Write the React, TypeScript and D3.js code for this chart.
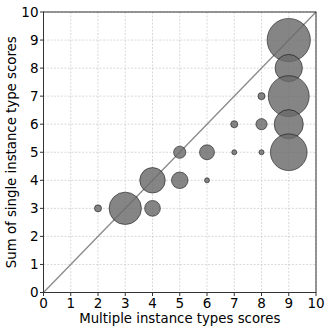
import * as d3 from "d3";

// bubble positions (multiple-type score, summed single-type score) and counts
const xs = [9, 9, 9, 9, 9, 3, 4, 4, 5, 5, 6, 8, 7, 8, 2, 6, 7, 8];
const ys = [9, 8, 7, 6, 5, 3, 4, 3, 4, 5, 5, 6, 6, 7, 3, 4, 5, 5];
const counts = [75, 30, 67, 34, 54, 42, 26, 10, 11, 6, 9, 5, 2, 2, 2, 1, 1, 1];
const ticks = [0, 1, 2, 3, 4, 5, 6, 7, 8, 9, 10];

const font = "DejaVu Sans, sans-serif";

export default function App() {
  const width = 332;
  const height = 332;
  const left = 43.5;
  const right = 316;
  const top = 12;
  const bottom = 292.5;

  const x = d3.scaleLinear().domain([0, 10]).range([left, right]);
  const y = d3.scaleLinear().domain([0, 10]).range([bottom, top]);
  const r = d3.scaleSqrt().domain([0, 1]).range([0, 2.5]);

  const order = d3.range(counts.length);

  return (
    <div style={{ position: "fixed", left: 0, top: 0 }}>
      <svg width={width} height={height} viewBox={`0 0 ${width} ${height}`} style={{ display: "block", background: "#fff" }}>
        {ticks.map((t) => (
          <g key={`g${t}`}>
            <line x1={x(t)} x2={x(t)} y1={top} y2={bottom} stroke="#cfcfcf" strokeWidth={0.8} strokeDasharray="2 1.5" />
            <line x1={left} x2={right} y1={y(t)} y2={y(t)} stroke="#cfcfcf" strokeWidth={0.8} strokeDasharray="2 1.5" />
          </g>
        ))}
        <line x1={x(0)} y1={y(0)} x2={x(10)} y2={y(10)} stroke="#8a8a8a" strokeWidth={1.3} />
        {order.map((i) => (
          <circle
            key={i}
            cx={x(xs[i])}
            cy={y(ys[i])}
            r={r(counts[i])}
            fill="#6a6a6a"
            fillOpacity={0.82}
            stroke="#000"
            strokeOpacity={0.6}
            strokeWidth={0.85}
          />
        ))}
        <rect x={left} y={top} width={right - left} height={bottom - top} fill="none" stroke="#333" strokeWidth={1} />
        {ticks.map((t) => (
          <g key={`t${t}`} fontFamily={font} fontSize={13.5} fill="#000">
            <line x1={x(t)} x2={x(t)} y1={bottom} y2={bottom + 3.5} stroke="#333" />
            <text x={x(t)} y={bottom + 15} textAnchor="middle">{t}</text>
            <line x1={left - 3.5} x2={left} y1={y(t)} y2={y(t)} stroke="#333" />
            <text x={left - 5} y={y(t) + 4.8} textAnchor="end">{t}</text>
          </g>
        ))}
        <text x={(left + right) / 2} y={323} textAnchor="middle" fontFamily={font} fontSize={13.3}>
          Multiple instance types scores
        </text>
        <text
          transform={`translate(16, ${(top + bottom) / 2}) rotate(-90)`}
          textAnchor="middle"
          fontFamily={font}
          fontSize={13.3}
        >
          Sum of single instance type scores
        </text>
      </svg>
    </div>
  );
}
